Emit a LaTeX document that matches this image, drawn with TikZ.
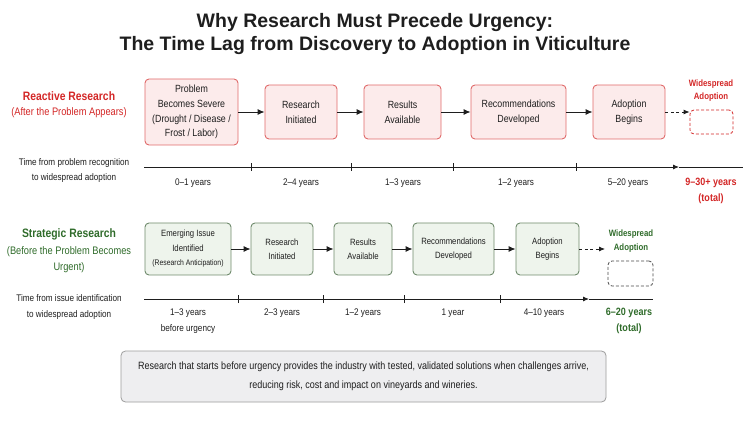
\documentclass[tikz,border=0pt]{standalone}
\usepackage{fontspec}
\setmainfont{Liberation Sans}[FakeStretch=0.85]
\newfontfamily\titlefont{Liberation Sans}
\usetikzlibrary{arrows.meta}
\definecolor{redtxt}{HTML}{D32626}
\definecolor{redline}{HTML}{E06A6A}
\definecolor{redfill}{HTML}{FCEBEB}
\definecolor{grntxt}{HTML}{2F6B2A}
\definecolor{grnline}{HTML}{6F8A6C}
\definecolor{grnfill}{HTML}{EEF4EC}
\definecolor{noteline}{HTML}{9C9C9C}
\definecolor{notefill}{HTML}{EEEEF0}
\definecolor{ink}{HTML}{1E1E1E}
\tikzset{
  rbox/.style={draw=redline, fill=redfill, line width=0.9pt, rounded corners=4pt, inner sep=0pt, align=center, font=\fontsize{10.4}{14.7}\selectfont, text=ink},
  gbox/.style={draw=grnline, fill=grnfill, line width=0.9pt, rounded corners=4pt, inner sep=0pt, align=center, font=\fontsize{9.1}{14.5}\selectfont, text=ink},
  flow/.style={-{Latex[length=7pt,width=6pt]}, line width=0.9pt, ink},
  dflow/.style={-{Latex[length=6pt,width=5pt]}, line width=0.8pt, ink, dash pattern=on 3pt off 2.5pt},
  tline/.style={line width=0.9pt, ink},
  tick/.style={line width=0.7pt, ink},
  lbl/.style={font=\fontsize{9.6}{15}\selectfont, text=ink, align=center, inner sep=0pt},
}
\begin{document}
\begin{tikzpicture}[x=1pt,y=-1pt]
\useasboundingbox (0,0) rectangle (750,422);
% title
\node[font=\titlefont\bfseries\fontsize{19.5}{23}\selectfont, align=center, text=ink] (title) at (375,34) {Why Research Must Precede Urgency:\\The Time Lag from Discovery to Adoption in Viticulture};

% reactive label
\node[font=\bfseries\fontsize{12.2}{14}\selectfont, text=redtxt, inner sep=0pt] (rlab) at (69,96) {Reactive Research};
\node[font=\fontsize{10.9}{14}\selectfont, text=redtxt, inner sep=0pt] (rsub) at (69,113) {(After the Problem Appears)};

% reactive boxes
\node[rbox, minimum width=93pt, minimum height=66pt] (r1) at (191.5,112) {Problem\\Becomes Severe\\(Drought / Disease /\\Frost / Labor)};
\node[rbox, minimum width=72pt, minimum height=54pt] (r2) at (301,112) {Research\\Initiated};
\node[rbox, minimum width=77pt, minimum height=54pt] (r3) at (402.5,112) {Results\\Available};
\node[rbox, minimum width=95pt, minimum height=54pt] (r4) at (518.5,112) {Recommendations\\Developed};
\node[rbox, minimum width=72pt, minimum height=54pt] (r5) at (629,112) {Adoption\\Begins};
\node[draw=redtxt, line width=0.8pt, dash pattern=on 3pt off 2pt, rounded corners=4pt, minimum width=43pt, minimum height=24pt, inner sep=0pt] (rd) at (711.5,122) {};
\node[font=\bfseries\fontsize{9.2}{13}\selectfont, text=redtxt, align=center, inner sep=0pt] (rdl) at (711,90.5) {Widespread\\Adoption};
\draw[flow] (r1) -- (r2);
\draw[flow] (r2) -- (r3);
\draw[flow] (r3) -- (r4);
\draw[flow] (r4) -- (r5);
\draw[dflow] (r5.east) -- (rd.west |- r5.east);

% reactive timeline
\node[lbl] (rtl) at (74,170.5) {Time from problem recognition\\to widespread adoption};
\coordinate (ra) at (144,167);
\coordinate (rm) at (679,167);
\coordinate (rb) at (743,167);
\draw[tline, -{Latex[length=6pt,width=5pt]}] (ra) -- (rm);
\draw[tline] (rm) -- (rb);
\foreach \x/\n in {251/rt1,351/rt2,453/rt3,576/rt4}{
  \coordinate (\n) at (\x,167);
  \draw[tick] ([yshift=-4pt]\n) -- ([yshift=4pt]\n);
}
\node[lbl] (ry1) at (193,183) {0--1 years};
\node[lbl] (ry2) at (301,183) {2--4 years};
\node[lbl] (ry3) at (403,183) {1--3 years};
\node[lbl] (ry4) at (516,183) {1--2 years};
\node[lbl] (ry5) at (628,183) {5--20 years};
\node[font=\bfseries\fontsize{10.6}{16.5}\selectfont, text=redtxt, align=center, inner sep=0pt] (rtot) at (711,191) {9--30+ years\\(total)};

% strategic label
\node[font=\bfseries\fontsize{12.2}{14}\selectfont, text=grntxt, inner sep=0pt] (slab) at (69,234) {Strategic Research};
\node[font=\fontsize{10.9}{15.5}\selectfont, text=grntxt, align=center, inner sep=0pt] (ssub) at (69,259.5) {(Before the Problem Becomes\\Urgent)};

% strategic boxes
\node[gbox, minimum width=86pt, minimum height=52pt] (s1) at (188,249) {Emerging Issue\\Identified\\{\fontsize{8.05}{14.5}\selectfont(Research Anticipation)}};
\node[gbox, minimum width=62pt, minimum height=52pt] (s2) at (282,249) {Research\\Initiated};
\node[gbox, minimum width=58pt, minimum height=52pt] (s3) at (363,249) {Results\\Available};
\node[gbox, minimum width=81pt, minimum height=52pt] (s4) at (453.5,249) {Recommendations\\Developed};
\node[gbox, minimum width=63pt, minimum height=52pt] (s5) at (547.5,249) {Adoption\\Begins};
\node[draw=ink!80, line width=0.8pt, dash pattern=on 3pt off 2pt, rounded corners=4pt, minimum width=45pt, minimum height=25pt, inner sep=0pt] (sd) at (630.5,273.5) {};
\node[font=\bfseries\fontsize{9.2}{14}\selectfont, text=grntxt, align=center, inner sep=0pt] (sdl) at (631,241) {Widespread\\Adoption};
\draw[flow] (s1) -- (s2);
\draw[flow] (s2) -- (s3);
\draw[flow] (s3) -- (s4);
\draw[flow] (s4) -- (s5);
\coordinate (sde) at (605,249);
\draw[dflow] (s5.east) -- (sde);

% strategic timeline
\node[lbl, font=\fontsize{9.6}{16}\selectfont] (stl) at (69,307) {Time from issue identification\\to widespread adoption};
\coordinate (sa) at (144,299);
\coordinate (sm) at (589,299);
\coordinate (sb) at (653,299);
\draw[tline, -{Latex[length=6pt,width=5pt]}] (sa) -- (sm);
\draw[tline] (sm) -- (sb);
\foreach \x/\n in {238/st1,323/st2,404/st3,500/st4}{
  \coordinate (\n) at (\x,299);
  \draw[tick] ([yshift=-4pt]\n) -- ([yshift=4pt]\n);
}
\node[lbl, font=\fontsize{9.6}{16}\selectfont] (sy1) at (188,321) {1--3 years\\before urgency};
\node[lbl] (sy2) at (282,313) {2--3 years};
\node[lbl] (sy3) at (363,313) {1--2 years};
\node[lbl] (sy4) at (453,313) {1 year};
\node[lbl] (sy5) at (544,313) {4--10 years};
\node[font=\bfseries\fontsize{10.6}{16}\selectfont, text=grntxt, align=center, inner sep=0pt] (stot) at (629,321) {6--20 years\\(total)};

% bottom note
\node[draw=noteline, fill=notefill, line width=0.8pt, rounded corners=4.5pt, minimum width=485pt, minimum height=51pt, inner sep=0pt, align=center, font=\fontsize{10.6}{19}\selectfont, text=ink] (note) at (363.5,376.5) {Research that starts before urgency provides the industry with tested, validated solutions when challenges arrive,\\reducing risk, cost and impact on vineyards and wineries.\vphantom{g}};
\end{tikzpicture}
\end{document}
